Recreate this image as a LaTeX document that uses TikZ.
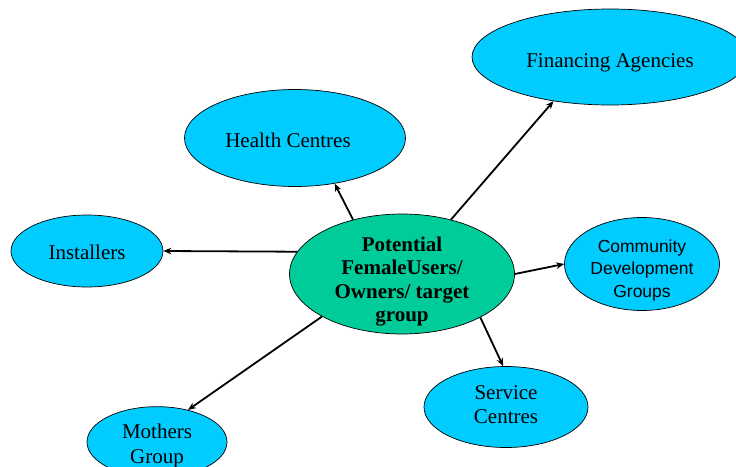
\documentclass[tikz,border=0pt]{standalone}
\usepackage{fontspec}
\setmainfont{Liberation Serif}
\newfontfamily\arialfont{Liberation Sans}
\usetikzlibrary{shapes.geometric,arrows.meta}
\definecolor{skyfill}{HTML}{00CCFF}
\definecolor{teafill}{HTML}{00CC99}
\newcommand{\grptext}[3]{\kern#1\raisebox{#2}[\height][\depth]{\begin{tabular}{@{}c@{}}#3\end{tabular}}\kern-#1}
\begin{document}
\begin{tikzpicture}[x=1pt,y=-1pt,
  grp/.style={ellipse,draw,line width=0.7pt,fill=skyfill,inner sep=0pt,
    font=\fontsize{21}{24}\selectfont},
  hub/.style={grp,fill=teafill,inner ysep=-8pt,font=\fontsize{21}{23.5}\selectfont\bfseries},
  link/.style={line width=1.8pt,-{Stealth[length=8pt,width=6.5pt]}}]
\useasboundingbox (0,0) rectangle (736,466);
\node[grp,minimum width=276pt,minimum height=96pt] (fin) at (610,57) {\grptext{0pt}{-6pt}{Financing Agencies}};
\node[grp,minimum width=221pt,minimum height=97pt] (hc) at (295,138) {\grptext{-7pt}{-5pt}{Health Centres}};
\node[grp,minimum width=152pt,minimum height=72pt] (inst) at (87,251) {\grptext{0pt}{-4pt}{Installers}};
\node[hub,minimum width=225pt,minimum height=120pt] (tgt) at (402,274) {\grptext{0pt}{-8pt}{Potential\\FemaleUsers/\\Owners/ target\\group}};
\node[grp,minimum width=155pt,minimum height=93pt,inner ysep=-4pt,
  font=\arialfont\fontsize{17.5}{22.5}\selectfont] (cdg) at (642,264) {\grptext{0pt}{-6pt}{Community\\Development\\Groups}};
\node[grp,minimum width=164pt,minimum height=81pt] (sc) at (506,407) {\grptext{0pt}{0pt}{Service\\Centres}};
\node[grp,minimum width=140pt,minimum height=70pt,font=\fontsize{21}{25}\selectfont] (mg) at (157,442) {\grptext{0pt}{-4pt}{Mothers\\Group}};
\draw[link] (tgt.168) -- (inst.east);
\draw[link] (tgt.132) -- (hc.311);
\draw[link] (tgt.48) -- (fin.218);
\draw[link] (tgt.east) -- (cdg.west);
\draw[link] (tgt.-29) -- (sc.94);
\draw[link] (tgt.208) -- (mg.46);
\end{tikzpicture}
\end{document}
